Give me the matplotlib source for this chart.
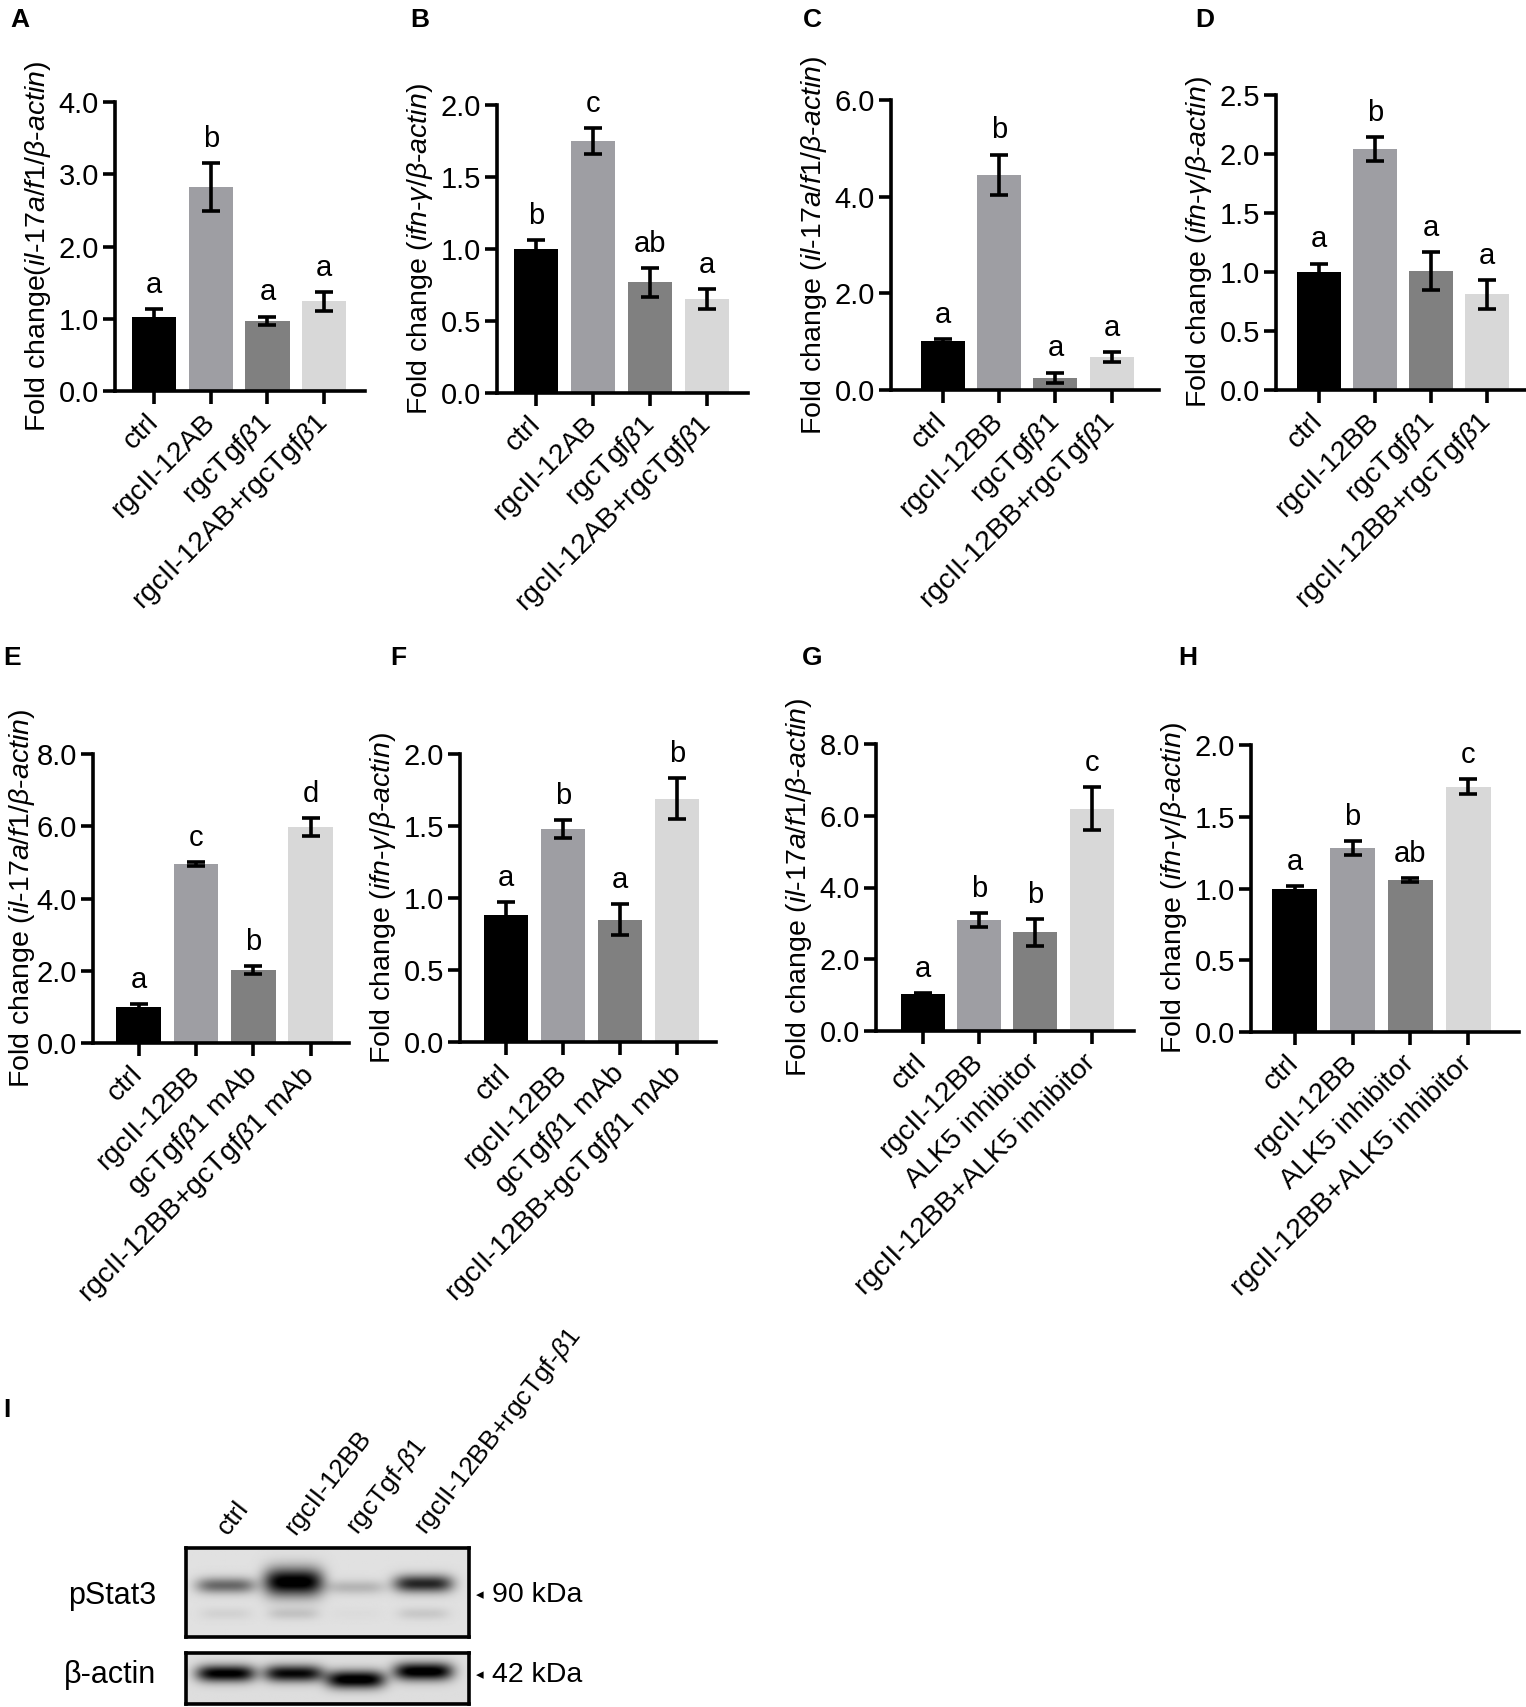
import matplotlib.pyplot as plt
import numpy as np

plt.rcParams['font.family'] = ['Liberation Sans', 'DejaVu Sans']
plt.rcParams['mathtext.fontset'] = 'custom'
plt.rcParams['mathtext.rm'] = 'Liberation Sans'
plt.rcParams['mathtext.it'] = 'Liberation Sans:italic'
plt.rcParams['mathtext.bf'] = 'Liberation Sans:bold'

# ---------------- data ----------------
b1 = r'$\beta$1'
groups_ab = ['ctrl', 'rgcII-12AB', 'rgcTgf' + b1, 'rgcII-12AB+rgcTgf' + b1]
groups_bb = ['ctrl', 'rgcII-12BB', 'rgcTgf' + b1, 'rgcII-12BB+rgcTgf' + b1]
groups_mab = ['ctrl', 'rgcII-12BB', 'gcTgf' + b1 + ' mAb', 'rgcII-12BB+gcTgf' + b1 + ' mAb']
groups_alk = ['ctrl', 'rgcII-12BB', 'ALK5 inhibitor', 'rgcII-12BB+ALK5 inhibitor']

ylab_il17_A = r'Fold change($\mathit{il}$-$\mathit{17a/f1/\beta}$-$\mathit{actin}$)'
ylab_il17 = r'Fold change ($\mathit{il}$-$\mathit{17a/f1/\beta}$-$\mathit{actin}$)'
ylab_ifn = r'Fold change ($\mathit{ifn}$-$\mathit{\gamma/\beta}$-$\mathit{actin}$)'

A_mean = [1.02, 2.82, 0.97, 1.24]
A_err = [0.11, 0.33, 0.06, 0.13]
A_sig = ['a', 'b', 'a', 'a']

B_mean = [1.00, 1.75, 0.77, 0.65]
B_err = [0.06, 0.09, 0.10, 0.07]
B_sig = ['b', 'c', 'ab', 'a']

C_mean = [1.02, 4.45, 0.25, 0.68]
C_err = [0.04, 0.42, 0.11, 0.10]
C_sig = ['a', 'b', 'a', 'a']

D_mean = [1.00, 2.04, 1.01, 0.81]
D_err = [0.07, 0.10, 0.16, 0.12]
D_sig = ['a', 'b', 'a', 'a']

E_mean = [1.00, 4.95, 2.02, 5.98]
E_err = [0.07, 0.06, 0.12, 0.24]
E_sig = ['a', 'c', 'b', 'd']

F_mean = [0.88, 1.48, 0.85, 1.69]
F_err = [0.09, 0.06, 0.11, 0.14]
F_sig = ['a', 'b', 'a', 'b']

G_mean = [1.02, 3.10, 2.75, 6.20]
G_err = [0.04, 0.20, 0.37, 0.60]
G_sig = ['a', 'b', 'b', 'c']

H_mean = [1.00, 1.28, 1.06, 1.71]
H_err = [0.02, 0.05, 0.015, 0.05]
H_sig = ['a', 'b', 'ab', 'c']

# western blot (panel I)
blot_lanes = ['ctrl', 'rgcII-12BB', r'rgcTgf-$\beta$1', r'rgcII-12BB+rgcTgf-$\beta$1']
pstat3_level = [0.5, 1.0, 0.18, 0.78]
actin_level = [0.95, 0.9, 1.0, 1.0]

bar_colors = ['#000000', '#9e9ea3', '#808080', '#d8d8d8']

# ---------------- figure ----------------
W, H = 1526, 1707
fig = plt.figure(figsize=(W / 100, H / 100), dpi=100)


def add_ax(left, right, top, bottom):
    return fig.add_axes([left / W, 1 - bottom / H, (right - left) / W, (bottom - top) / H])


def bar_panel(ax, means, errs, sigs, labels, ymax, step, ylabel, xlim, lpad=4):
    x = np.arange(len(means))
    ax.bar(x, means, width=0.78, color=bar_colors, zorder=2)
    ax.errorbar(x, means, yerr=errs, fmt='none', ecolor='black', elinewidth=2.6,
                capsize=6.5, capthick=2.6, zorder=3)
    for i in x:
        ax.text(i, means[i] + errs[i] + 0.035 * ymax, sigs[i], ha='center', va='bottom',
                fontsize=21)
    ax.set_ylim(0, ymax)
    ax.set_xlim(*xlim)
    ticks = np.arange(0, ymax + step / 2, step)
    ax.set_yticks(ticks)
    ax.set_yticklabels(['%.1f' % v for v in ticks])
    ax.set_xticks(x)
    ax.set_xticklabels(labels, rotation=45, ha='right', va='center', rotation_mode='anchor')
    for s in ['top', 'right']:
        ax.spines[s].set_visible(False)
    for s in ['left', 'bottom']:
        ax.spines[s].set_linewidth(2.6)
    ax.tick_params(axis='both', direction='out', length=9, width=2.6)
    ax.tick_params(axis='x', pad=11, labelsize=20.5)
    ax.tick_params(axis='y', pad=2.5, labelsize=21)
    ax.set_ylabel(ylabel, fontsize=20.5, labelpad=lpad)
    ax.patch.set_alpha(0)


# panel boxes in pixels: left, right, top tick, zero line
axA = add_ax(115, 365, 102, 391)
bar_panel(axA, A_mean, A_err, A_sig, groups_ab, 4.0, 1.0, ylab_il17_A, (-0.69, 3.72))
axB = add_ax(497, 748, 105, 393)
bar_panel(axB, B_mean, B_err, B_sig, groups_ab, 2.0, 0.5, ylab_ifn, (-0.69, 3.72))
axC = add_ax(891, 1159, 100, 390)
bar_panel(axC, C_mean, C_err, C_sig, groups_bb, 6.0, 2.0, ylab_il17, (-0.92, 3.84))
axD = add_ax(1276, 1526, 95, 390)
bar_panel(axD, D_mean, D_err, D_sig, groups_bb, 2.5, 0.5, ylab_ifn, (-0.76, 3.69))

axE = add_ax(93, 349, 754, 1043)
bar_panel(axE, E_mean, E_err, E_sig, groups_mab, 8.0, 2.0, ylab_il17, (-0.8, 3.67), lpad=0)
axF = add_ax(460, 716, 754, 1042)
bar_panel(axF, F_mean, F_err, F_sig, groups_mab, 2.0, 0.5, ylab_ifn, (-0.81, 3.68))
axG = add_ax(876, 1134, 744, 1031)
bar_panel(axG, G_mean, G_err, G_sig, groups_alk, 8.0, 2.0, ylab_il17, (-0.83, 3.75))
axH = add_ax(1251, 1519, 745, 1032)
bar_panel(axH, H_mean, H_err, H_sig, groups_alk, 2.0, 0.5, ylab_ifn, (-0.76, 3.88))

# panel letters
for lab, px, py in [('A', 20, 20), ('B', 420, 20), ('C', 812, 20), ('D', 1205, 20),
                    ('E', 12, 658), ('F', 398, 658), ('G', 812, 658), ('H', 1188, 658),
                    ('I', 7, 1410)]:
    fig.text(px / W, 1 - py / H, lab, fontsize=19, fontweight='bold', ha='center', va='center')

# ---------------- western blot ----------------
lane_pos = [0.14, 0.38, 0.60, 0.84]
BL, BR = 186, 469


def blot_image(levels, centers, thick, w=290, h=70, bg=0.88, ghost=None):
    X, Y = np.meshgrid(np.linspace(0, 1, w), np.linspace(0, 1, h))
    dark = np.zeros_like(X)
    for cx, amp, cy, th in zip(lane_pos, levels, centers, thick):
        dark += amp * np.exp(-((X - cx) / 0.105) ** 4) * np.exp(-((Y - cy) / th) ** 2)
    if ghost is not None:
        for cx, amp in zip(lane_pos, ghost):
            dark += amp * np.exp(-((X - cx) / 0.09) ** 4) * np.exp(-((Y - 0.74) / 0.07) ** 2)
    return np.clip(bg - 0.95 * np.clip(dark, 0, 1), 0, 1)


def blot_ax(top, bottom, img):
    ax = add_ax(BL, BR, top, bottom)
    ax.imshow(img, cmap='gray', vmin=0, vmax=1, aspect='auto', interpolation='bilinear')
    ax.set_xticks([])
    ax.set_yticks([])
    for s in ax.spines.values():
        s.set_linewidth(2.6)
    return ax


p_img = blot_image(pstat3_level, [0.42, 0.38, 0.44, 0.40], [0.09, 0.16, 0.08, 0.1],
                   ghost=[0.06, 0.12, 0.02, 0.1])
blot_ax(1548, 1637, p_img)
a_img = blot_image(actin_level, [0.40, 0.40, 0.52, 0.36], [0.17, 0.17, 0.18, 0.18], h=50, bg=0.87)
blot_ax(1653, 1704, a_img)

fig.text(156 / W, 1 - 1596 / H, 'pStat3', fontsize=22, ha='right', va='center')
fig.text(156 / W, 1 - 1675 / H, 'β-actin', fontsize=22, ha='right', va='center')
for py, kd in [(1595, '90 kDa'), (1675, '42 kDa')]:
    fig.text(476 / W, 1 - py / H, '◂', fontsize=11, ha='left', va='center', family=['DejaVu Sans'])
    fig.text(492 / W, 1 - py / H, kd, fontsize=20.5, ha='left', va='center')

for cx, lane in zip(lane_pos, blot_lanes):
    px = BL + cx * (BR - BL) + 2
    fig.text(px / W, 1 - 1536 / H, lane, fontsize=19, rotation=52, ha='left', va='baseline',
             rotation_mode='anchor')

plt.savefig('out.png', dpi=100)
